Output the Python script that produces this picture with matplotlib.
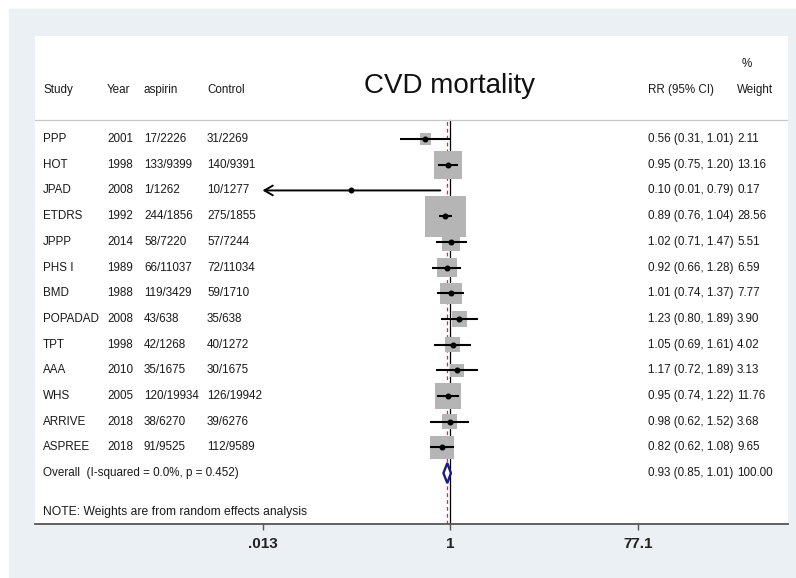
import matplotlib
matplotlib.use('Agg')
import matplotlib.pyplot as plt
import matplotlib.transforms as mtransforms
from matplotlib.patches import Rectangle
from matplotlib.ticker import NullLocator

plt.rcParams['font.family'] = ['Liberation Sans', 'DejaVu Sans']

studies = ['PPP', 'HOT', 'JPAD', 'ETDRS', 'JPPP', 'PHS I', 'BMD', 'POPADAD',
           'TPT', 'AAA', 'WHS', 'ARRIVE', 'ASPREE']
years = [2001, 1998, 2008, 1992, 2014, 1989, 1988, 2008, 1998, 2010, 2005, 2018, 2018]
aspirin = ['17/2226', '133/9399', '1/1262', '244/1856', '58/7220', '66/11037',
           '119/3429', '43/638', '42/1268', '35/1675', '120/19934', '38/6270', '91/9525']
control = ['31/2269', '140/9391', '10/1277', '275/1855', '57/7244', '72/11034',
           '59/1710', '35/638', '40/1272', '30/1675', '126/19942', '39/6276', '112/9589']
rr = [0.56, 0.95, 0.10, 0.89, 1.02, 0.92, 1.01, 1.23, 1.05, 1.17, 0.95, 0.98, 0.82]
lo = [0.31, 0.75, 0.01, 0.76, 0.71, 0.66, 0.74, 0.80, 0.69, 0.72, 0.74, 0.62, 0.62]
hi = [1.01, 1.20, 0.79, 1.04, 1.47, 1.28, 1.37, 1.89, 1.61, 1.89, 1.22, 1.52, 1.08]
weight = [2.11, 13.16, 0.17, 28.56, 5.51, 6.59, 7.77, 3.90, 4.02, 3.13, 11.76, 3.68, 9.65]
overall_rr, overall_lo, overall_hi = 0.93, 0.85, 1.01
overall_label = 'Overall  (I-squared = 0.0%, p = 0.452)'
note = 'NOTE: Weights are from random effects analysis'
xticks = [0.013, 1, 77.1]
xtick_labels = ['.013', '1', '77.1']

W, H = 796, 578
fig = plt.figure(figsize=(W / 100, H / 100), dpi=100)
fig.add_artist(Rectangle((9 / W, 0), 1, 1 - 9 / H, transform=fig.transFigure,
                         color='#eaf0f3', zorder=0))
ax = fig.add_axes([35 / W, 1 - 524 / H, 753 / W, 488 / H])
ax.set_xscale('log')
ax.set_xlim(6.77e-5, 2440)
ax.set_ylim(14.98, -4.01)

trans = mtransforms.blended_transform_factory(ax.transAxes, ax.transData)
def fx(px):
    return (px - 35) / 753.0

txt = dict(fontsize=8.4, color='#1a1a1a', transform=trans)
hdr_y = -1.79
ax.text(fx(43), hdr_y, 'Study', va='baseline', **txt)
ax.text(fx(107), hdr_y, 'Year', va='baseline', **txt)
ax.text(fx(144), hdr_y, 'aspirin', va='baseline', **txt)
ax.text(fx(207), hdr_y, 'Control', va='baseline', **txt)
ax.text(fx(648), hdr_y, 'RR (95% CI)', va='baseline', **txt)
ax.text(fx(737), hdr_y, 'Weight', va='baseline', **txt)
ax.text(fx(742), -2.8, '%', va='baseline', **txt)
ax.text(fx(450), hdr_y, 'CVD mortality', fontsize=20, ha='center', va='baseline',
        color='#111111', transform=trans)
ax.axhline(-0.74, color='#c8c8c8', lw=0.9)

rows = list(range(len(studies)))
for i in rows:
    ax.text(fx(43), i, studies[i], va='center', **txt)
    ax.text(fx(107), i, str(years[i]), va='center', **txt)
    ax.text(fx(144), i, aspirin[i], va='center', **txt)
    ax.text(fx(207), i, control[i], va='center', **txt)
    ax.text(fx(648), i, '%.2f (%.2f, %.2f)' % (rr[i], lo[i], hi[i]), va='center', **txt)
    ax.text(fx(737), i, '%.2f' % weight[i], va='center', **txt)

oy = len(studies)
ax.text(fx(43), oy, overall_label, va='center', **txt)
ax.text(fx(648), oy, '%.2f (%.2f, %.2f)' % (overall_rr, overall_lo, overall_hi), va='center', **txt)
ax.text(fx(737), oy, '100.00', va='center', **txt)
ax.text(fx(43), 14.51, note, va='center', fontsize=8.7, color='#1a1a1a', transform=trans)

# reference lines
ymax_line = (524 - 120) / 488.0
ax.axvline(1, ymin=0, ymax=ymax_line, color='k', lw=0.9, zorder=1)
ax.axvline(overall_rr, ymin=0, ymax=ymax_line, color='#b03a48', lw=0.9,
           ls=(0, (3, 2.5)), zorder=1)

# weight boxes
sizes = [(41 * (w / max(weight)) ** 0.5 * 0.72) ** 2 for w in weight]
ax.scatter(rr, rows, marker='s', s=sizes, color='#b5b5b5', linewidths=0, zorder=3)

# confidence intervals
for i in rows:
    if lo[i] < xticks[0]:
        ax.annotate('', xy=(xticks[0], i), xytext=(hi[i], i),
                    arrowprops=dict(arrowstyle='->,head_length=0.6,head_width=0.35',
                                    color='k', lw=1.4, shrinkA=0, shrinkB=0),
                    zorder=4)
    else:
        ax.plot([lo[i], hi[i]], [i, i], color='k', lw=1.5, zorder=4,
                solid_capstyle='butt')
ax.plot(rr, rows, 'o', ms=3.3, color='k', zorder=5)

# overall diamond
ax.fill([overall_lo, overall_rr, overall_hi, overall_rr],
        [oy, oy - 0.39, oy, oy + 0.39],
        facecolor='white', edgecolor='#1c1c80', lw=1.7, zorder=4)

for s in ['top', 'left', 'right']:
    ax.spines[s].set_visible(False)
ax.spines['bottom'].set_color('#555555')
ax.spines['bottom'].set_linewidth(1.3)
ax.set_yticks([])
ax.set_xticks(xticks)
ax.set_xticklabels(xtick_labels, fontweight='bold')
ax.xaxis.set_minor_locator(NullLocator())
ax.tick_params(axis='x', direction='out', length=4, width=1, color='#555555',
               labelsize=11, labelcolor='#222222', pad=5)

fig.savefig('out.png', dpi=100)
